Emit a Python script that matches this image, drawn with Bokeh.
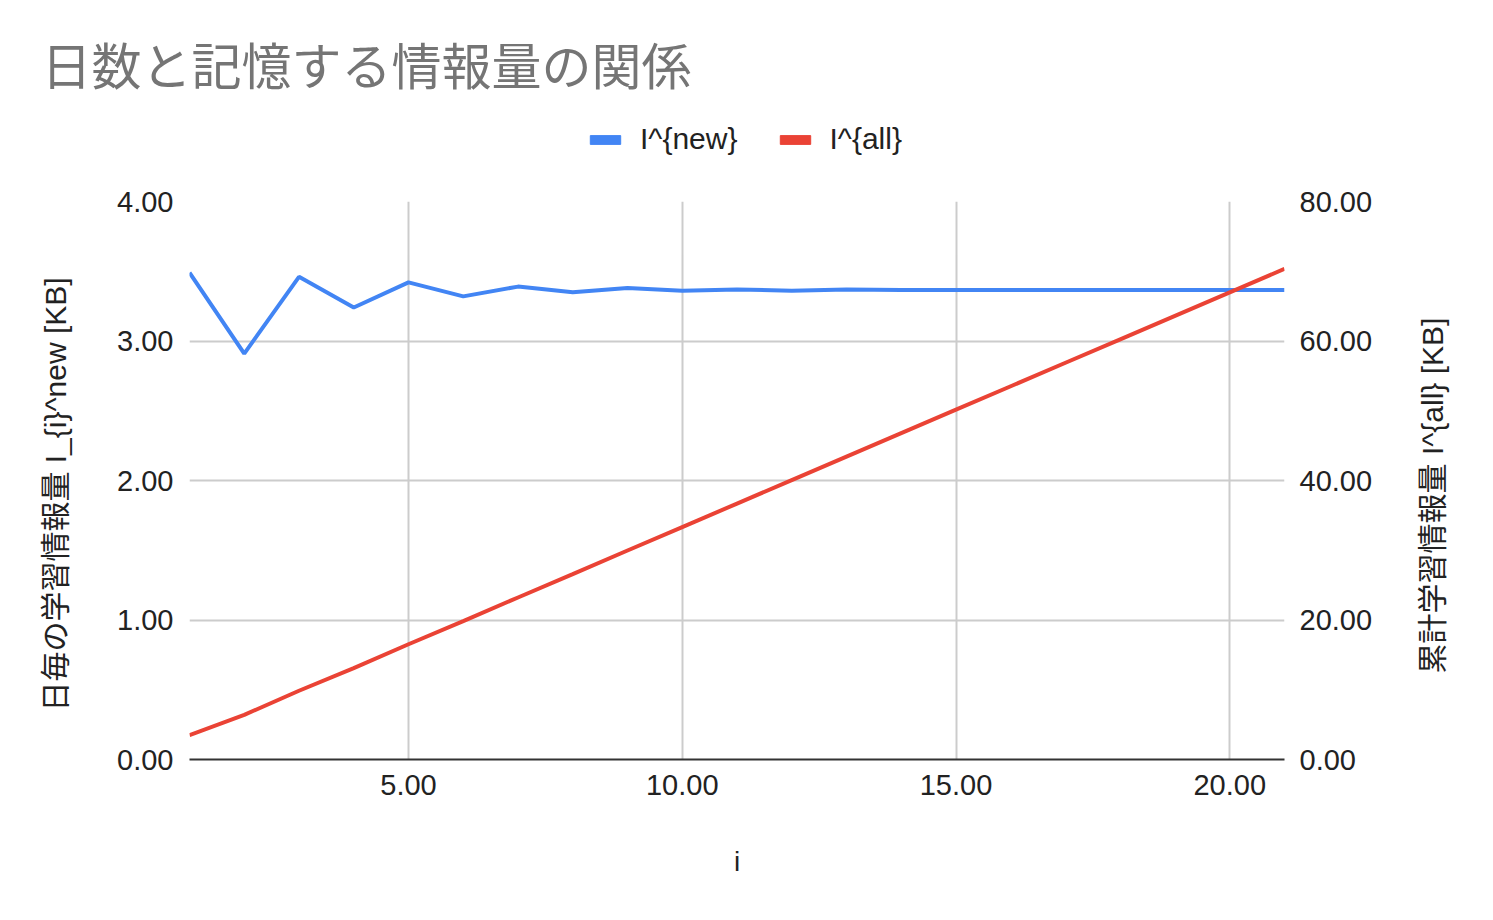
import math
from bokeh.plotting import figure
from bokeh.layouts import column, row
from bokeh.models import (Range1d, LinearAxis, FixedTicker, NumeralTickFormatter,
                          Legend, LegendItem, Label)
from bokeh.embed import file_html
from bokeh.resources import INLINE

# ---- data ----
i_vals = [1, 2, 3, 4, 5, 6, 7, 8, 9, 10, 11, 12, 13, 14, 15, 16, 17, 18, 19, 20, 21]
i_new = [3.49, 2.91, 3.46, 3.24, 3.42, 3.32, 3.39, 3.35, 3.38, 3.36, 3.37,
         3.36, 3.37, 3.365, 3.365, 3.365, 3.365, 3.365, 3.365, 3.365, 3.365]
i_all = [3.49, 6.40, 9.86, 13.10, 16.52, 19.84, 23.23, 26.58, 29.96, 33.32, 36.69,
         40.05, 43.42, 46.78, 50.15, 53.51, 56.88, 60.24, 63.61, 66.97, 70.34]
x_ticks = [5, 10, 15, 20]
left_ticks = [0, 1, 2, 3, 4]
right_ticks = [0, 20, 40, 60, 80]
series_names = ["I^{new}", "I^{all}"]
title_text = "日数と記憶する情報量の関係"
left_title = "日毎の学習情報量 I_{i}^new [KB]"
right_title = "累計学習情報量 I^{all} [KB]"
x_title = "i"

BLUE = "#4285F4"
RED = "#EA4335"
LAT = "Liberation Sans"
MIX = "Liberation Sans, Noto Sans CJK JP"


def blank_fig(width, height, **kw):
    f = figure(width=width, height=height, output_backend="svg", toolbar_location=None,
               x_range=Range1d(0, 1), y_range=Range1d(0, 1),
               x_axis_location=None, y_axis_location=None, **kw)
    f.outline_line_color = None
    f.grid.visible = False
    return f


# ---------------- header: title + legend ----------------
header = blank_fig(1485, 180, min_border_left=0, min_border_right=0,
                   min_border_top=103, min_border_bottom=0)
header.title.text = title_text
header.title.text_font = "Noto Sans CJK JP"
header.title.text_font_size = "50px"
header.title.text_font_style = "normal"
header.title.text_color = "#757575"
header.title.align = "left"
header.title.offset = 41
header.title.standoff = 10

nan = [math.nan]
q_new = header.quad(left=nan, right=nan, top=nan, bottom=nan, fill_color=BLUE, line_color=BLUE)
q_all = header.quad(left=nan, right=nan, top=nan, bottom=nan, fill_color=RED, line_color=RED)
legend = Legend(items=[LegendItem(label=series_names[0], renderers=[q_new]),
                       LegendItem(label=series_names[1], renderers=[q_all])],
                orientation="horizontal", location=(586, 24))
legend.border_line_color = None
legend.background_fill_alpha = 0
legend.label_text_font = LAT
legend.label_text_font_size = "30px"
legend.label_text_color = "#222222"
legend.glyph_width = 38
legend.glyph_height = 11
legend.label_standoff = 16
legend.spacing = 38
legend.padding = 0
legend.margin = 0
header.add_layout(legend, "center")

# ---------------- main chart ----------------
p = figure(frame_width=1095, frame_height=558, output_backend="svg", toolbar_location=None,
           x_range=Range1d(1, 21), y_range=Range1d(0, 4),
           min_border_left=89, min_border_right=130,
           min_border_top=21, min_border_bottom=153)
p.title_location = None
p.outline_line_color = None
p.background_fill_color = "white"
p.extra_y_ranges = {"all": Range1d(0, 80)}

p.line(i_vals, i_new, line_color=BLUE, line_width=4)
p.line(i_vals, i_all, line_color=RED, line_width=4, y_range_name="all")

fmt = NumeralTickFormatter(format="0.00")

xa = p.xaxis[0]
xa.ticker = FixedTicker(ticks=x_ticks)
xa.formatter = fmt
xa.axis_line_color = "#333333"
xa.axis_line_width = 2
xa.major_tick_line_color = None
xa.minor_tick_line_color = None
xa.major_tick_out = 0
xa.major_label_standoff = 15
xa.major_label_text_font = LAT
xa.major_label_text_font_size = "29px"
xa.major_label_text_color = "#222222"
xa.axis_label = x_title
xa.axis_label_text_font = LAT
xa.axis_label_text_font_size = "28px"
xa.axis_label_text_font_style = "normal"
xa.axis_label_text_color = "#222222"
xa.axis_label_standoff = 48

ya = p.yaxis[0]
ya.ticker = FixedTicker(ticks=left_ticks)
ya.formatter = fmt
ya.axis_line_color = None
ya.major_tick_line_color = None
ya.minor_tick_line_color = None
ya.major_tick_out = 0
ya.major_label_standoff = 16
ya.major_label_text_font = LAT
ya.major_label_text_font_size = "29px"
ya.major_label_text_color = "#222222"

ra = LinearAxis(y_range_name="all", ticker=FixedTicker(ticks=right_ticks), formatter=fmt)
ra.axis_line_color = None
ra.major_tick_line_color = None
ra.minor_tick_line_color = None
ra.major_tick_out = 0
ra.major_label_standoff = 15
ra.major_label_text_font = LAT
ra.major_label_text_font_size = "29px"
ra.major_label_text_color = "#222222"
p.add_layout(ra, "right")

p.xgrid.ticker = FixedTicker(ticks=x_ticks)
p.xgrid.grid_line_color = "#cccccc"
p.xgrid.grid_line_width = 2
p.ygrid.ticker = FixedTicker(ticks=left_ticks)
p.ygrid.grid_line_color = "#cccccc"
p.ygrid.grid_line_width = 2

# ---------------- axis title panels (frames align with the main frame) ----------------
left_side = blank_fig(100, 732, min_border=0)
left_side.title_location = None
left_side.add_layout(Label(x=55, y=265, x_units="screen", y_units="screen",
                           text=left_title, angle=math.pi / 2,
                           text_align="center", text_baseline="middle",
                           text_font=MIX, text_font_size="30px", text_color="#222222"))

right_side = blank_fig(71, 732, min_border=0)
right_side.title_location = None
right_side.add_layout(Label(x=18, y=264, x_units="screen", y_units="screen",
                            text=right_title, angle=math.pi / 2,
                            text_align="center", text_baseline="middle",
                            text_font=MIX, text_font_size="30px", text_color="#222222"))

layout = column(header, row(left_side, p, right_side, spacing=0), spacing=0)
open("out.html", "w").write(file_html(layout, INLINE))
